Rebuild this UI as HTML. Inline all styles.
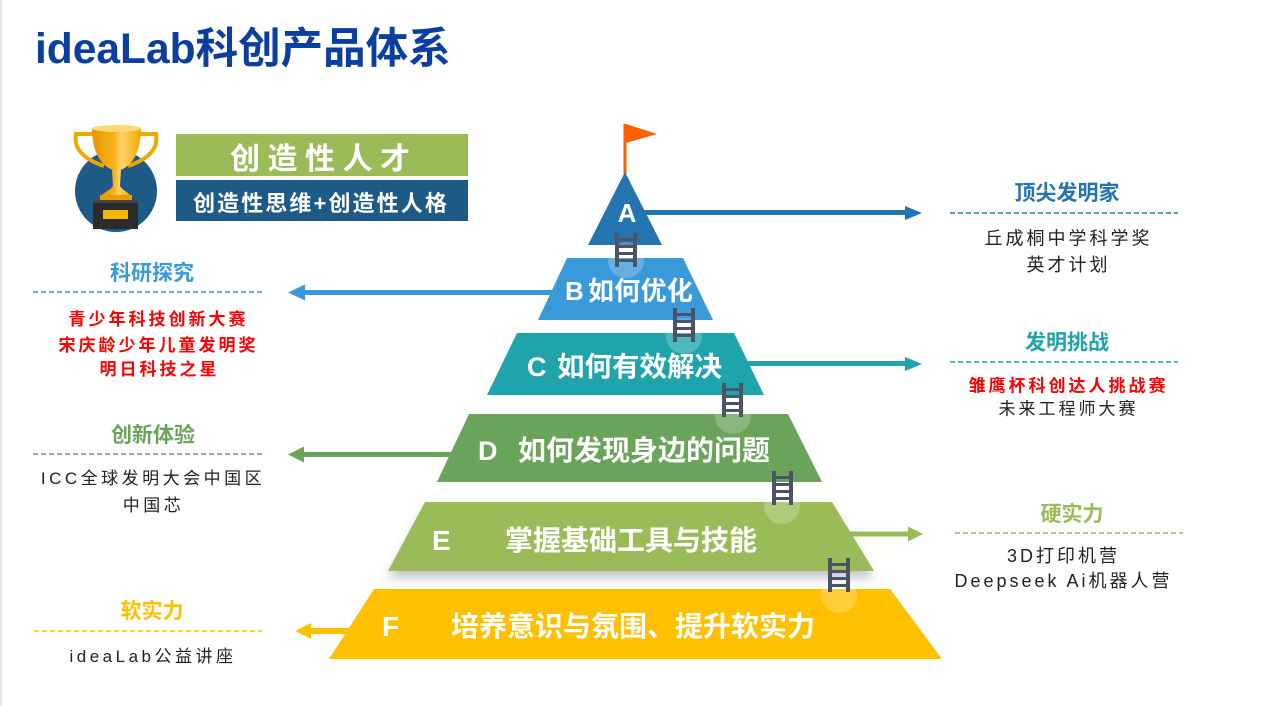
<!DOCTYPE html>
<html><head><meta charset="utf-8"><style>
html,body{margin:0;padding:0;background:#fff;}
svg{display:block;}
text{font-family:"Liberation Sans","Noto Sans CJK SC",sans-serif;}
</style></head><body>
<svg width="1265" height="706" viewBox="0 0 1265 706" xmlns="http://www.w3.org/2000/svg">
<defs>
<linearGradient id="gold" x1="0" y1="0" x2="1" y2="0">
<stop offset="0" stop-color="#e89400"/><stop offset="0.45" stop-color="#f7b21a"/><stop offset="0.6" stop-color="#ffd36b"/><stop offset="1" stop-color="#f2a900"/>
</linearGradient>
<filter id="sh" x="-10%" y="-20%" width="120%" height="160%">
<feDropShadow dx="0" dy="7" stdDeviation="5" flood-color="#7a7f8c" flood-opacity="0.45"/>
</filter>
</defs>
<rect x="0" y="0" width="1265" height="706" fill="#fff"/>
<rect x="0" y="0" width="2" height="706" fill="#e6e6e6"/>

<!-- Title -->
<text x="35" y="63" font-size="42.5" font-weight="bold" fill="#0a3fa0">ideaLab科创产品体系</text>

<!-- Trophy -->
<circle cx="116" cy="191" r="41" fill="#1d5a85"/>
<path d="M93 134 L76 134 C73 150 86 160 104 166" fill="none" stroke="#f0a800" stroke-width="4"/>
<path d="M139 134 L156 134 C159 150 146 160 128 166" fill="none" stroke="#f0a800" stroke-width="4"/>
<path d="M92 128 L141 128 C141 152 132 168 117 171 C101 168 92 152 92 128 Z" fill="url(#gold)"/>
<ellipse cx="116.5" cy="128.5" rx="24.5" ry="3.5" fill="#ffd874"/>
<path d="M112 170 L121 170 L120 186 C122 190 128 192 131 196 L101 196 C104 192 111 190 113 186 Z" fill="url(#gold)"/>
<rect x="100" y="195" width="32" height="5" fill="#e8a000"/>
<rect x="93" y="200" width="45" height="29" fill="#2b2b2b"/>
<rect x="93" y="200" width="45" height="3" fill="#444"/>
<rect x="103" y="210" width="25" height="9" fill="#f5b400"/>

<!-- Green/blue boxes -->
<rect x="176" y="134" width="292" height="42" fill="#9bbb59"/>
<text x="230" y="169" font-size="30" font-weight="bold" fill="#fff" letter-spacing="7.5">创造性人才</text>
<rect x="176" y="180" width="292" height="41" fill="#1d5a85"/>
<text x="193" y="211" font-size="22" font-weight="bold" fill="#fff" letter-spacing="2.1">创造性思维+创造性人格</text>

<!-- Arrows (drawn under shapes) -->
<g>
<rect x="640" y="210" width="267" height="5" fill="#2474b0"/>
<polygon points="905,206 922,213 905,220" fill="#2474b0"/>
<rect x="302" y="290" width="260" height="5" fill="#3a9ad9"/>
<polygon points="288,292.5 305,284.5 305,300.5" fill="#3a9ad9"/>
<rect x="740" y="361" width="167" height="5" fill="#1ea4aa"/>
<polygon points="905,357 922,364 905,371" fill="#1ea4aa"/>
<rect x="302" y="452" width="160" height="5" fill="#6aa35a"/>
<polygon points="288,454.5 304,446.5 304,462.5" fill="#6aa35a"/>
<rect x="840" y="531.5" width="70" height="5" fill="#9bbb59"/>
<polygon points="908,526.5 923,534 908,541.5" fill="#9bbb59"/>
<rect x="309" y="628" width="55" height="6" fill="#ffc000"/>
<polygon points="295,631 311,623 311,639" fill="#ffc000"/>
</g>

<!-- Flag -->
<rect x="623.5" y="124" width="3" height="50" fill="#ff6000"/>
<polygon points="626,124 657,134 626,143" fill="#ff6000"/>

<!-- Pyramid layers -->
<polygon points="625,172 588,245 662,245" fill="#2474b0"/>
<polygon points="567,258 683,258 713,320 538,320" fill="#3a9ad9"/>
<polygon points="517,333 734,333 764,395 487,395" fill="#1ea4aa"/>
<polygon points="469,414 788,414 822,482 437,482" fill="#6aa35a"/>
<polygon points="425,502 832,502 874,571 388,571" fill="#9bbb59" filter="url(#sh)"/>
<polygon points="374,589 890,589 942,659 329,659" fill="#ffc000"/>

<!-- translucent circles -->
<g fill="#fff" fill-opacity="0.22">
<circle cx="626" cy="260" r="18"/>
<circle cx="684" cy="336" r="18"/>
<circle cx="733" cy="416" r="18"/>
<circle cx="782" cy="506" r="18"/>
<circle cx="839" cy="595" r="18"/>
</g>

<!-- Ladders -->
<g fill="#4b5466">
<rect x="615" y="233" width="4" height="34"/><rect x="633" y="233" width="4" height="34"/>
<rect x="615" y="238" width="22" height="3"/><rect x="615" y="245" width="22" height="3"/><rect x="615" y="252" width="22" height="3"/><rect x="615" y="259" width="22" height="3"/>

<rect x="673" y="308" width="4" height="34"/><rect x="691" y="308" width="4" height="34"/>
<rect x="673" y="313" width="22" height="3"/><rect x="673" y="320" width="22" height="3"/><rect x="673" y="327" width="22" height="3"/><rect x="673" y="334" width="22" height="3"/>

<rect x="722" y="383" width="4" height="34"/><rect x="739" y="383" width="4" height="34"/>
<rect x="722" y="388" width="21" height="3"/><rect x="722" y="395" width="21" height="3"/><rect x="722" y="402" width="21" height="3"/><rect x="722" y="409" width="21" height="3"/>

<rect x="772" y="471" width="4" height="34"/><rect x="789" y="471" width="4" height="34"/>
<rect x="772" y="476" width="21" height="3"/><rect x="772" y="483" width="21" height="3"/><rect x="772" y="490" width="21" height="3"/><rect x="772" y="497" width="21" height="3"/>

<rect x="828" y="558" width="4" height="34"/><rect x="846" y="558" width="4" height="34"/>
<rect x="828" y="563" width="22" height="3"/><rect x="828" y="570" width="22" height="3"/><rect x="828" y="577" width="22" height="3"/><rect x="828" y="584" width="22" height="3"/>
</g>

<!-- Layer labels -->
<g fill="#fff" font-weight="bold">
<text x="627" y="222" font-size="26" text-anchor="middle">A</text>
<text x="565" y="300" font-size="26">B</text>
<text x="588" y="300" font-size="26" letter-spacing="0.3">如何优化</text>
<text x="527" y="376" font-size="27">C</text>
<text x="557" y="376" font-size="27.5">如何有效解决</text>
<text x="478" y="460" font-size="27">D</text>
<text x="518" y="460" font-size="28">如何发现身边的问题</text>
<text x="432" y="550" font-size="28">E</text>
<text x="505" y="550" font-size="28">掌握基础工具与技能</text>
<text x="382" y="636" font-size="28">F</text>
<text x="451" y="636" font-size="28">培养意识与氛围、提升软实力</text>
</g>

<!-- Right side -->
<text x="1067" y="200" font-size="21" font-weight="bold" fill="#2474b0" text-anchor="middle">顶尖发明家</text>
<line x1="950" y1="213" x2="1178" y2="213" stroke="#2474b0" stroke-width="1.5" stroke-dasharray="5 3"/>
<text x="1068.5" y="244.5" font-size="18" fill="#222" text-anchor="middle" letter-spacing="3">丘成桐中学科学奖</text>
<text x="1068.5" y="271" font-size="18" fill="#222" text-anchor="middle" letter-spacing="3">英才计划</text>

<text x="1067" y="349.5" font-size="21" font-weight="bold" fill="#1ea4aa" text-anchor="middle">发明挑战</text>
<line x1="950" y1="362" x2="1178" y2="362" stroke="#1ea4aa" stroke-width="1.5" stroke-dasharray="5 3"/>
<text x="1068.5" y="391.5" font-size="17" font-weight="bold" fill="#ff0000" text-anchor="middle" letter-spacing="3">雏鹰杯科创达人挑战赛</text>
<text x="1068.5" y="414.5" font-size="17" fill="#222" text-anchor="middle" letter-spacing="3">未来工程师大赛</text>

<text x="1072" y="521" font-size="21" font-weight="bold" fill="#9bbb59" text-anchor="middle">硬实力</text>
<line x1="955" y1="533" x2="1183" y2="533" stroke="#9bbb59" stroke-width="1.5" stroke-dasharray="5 3"/>
<text x="1063.5" y="562" font-size="18" fill="#222" text-anchor="middle" letter-spacing="3">3D打印机营</text>
<text x="1063.5" y="587" font-size="18" fill="#222" text-anchor="middle" letter-spacing="3">Deepseek Ai机器人营</text>

<!-- Left side -->
<text x="152" y="280" font-size="21" font-weight="bold" fill="#3a9ad9" text-anchor="middle">科研探究</text>
<line x1="33" y1="292" x2="262" y2="292" stroke="#3a9ad9" stroke-width="1.5" stroke-dasharray="5 3"/>
<text x="158.5" y="325" font-size="17" font-weight="bold" fill="#ff0000" text-anchor="middle" letter-spacing="3">青少年科技创新大赛</text>
<text x="158.5" y="351" font-size="17" font-weight="bold" fill="#ff0000" text-anchor="middle" letter-spacing="3">宋庆龄少年儿童发明奖</text>
<text x="159.5" y="375" font-size="17" font-weight="bold" fill="#ff0000" text-anchor="middle" letter-spacing="3">明日科技之星</text>

<text x="153" y="442" font-size="21" font-weight="bold" fill="#6aa35a" text-anchor="middle">创新体验</text>
<line x1="33" y1="454" x2="262" y2="454" stroke="#6aa35a" stroke-width="1.5" stroke-dasharray="5 3"/>
<text x="153" y="484" font-size="17" fill="#222" text-anchor="middle" letter-spacing="3.5">ICC全球发明大会中国区</text>
<text x="153.5" y="511" font-size="17" fill="#222" text-anchor="middle" letter-spacing="3.5">中国芯</text>

<text x="152" y="618" font-size="21" font-weight="bold" fill="#ffc000" text-anchor="middle">软实力</text>
<line x1="34" y1="631" x2="262" y2="631" stroke="#ffc000" stroke-width="1.5" stroke-dasharray="5 3"/>
<text x="153" y="662" font-size="17" fill="#222" text-anchor="middle" letter-spacing="3.5">ideaLab公益讲座</text>
</svg>
</body></html>
